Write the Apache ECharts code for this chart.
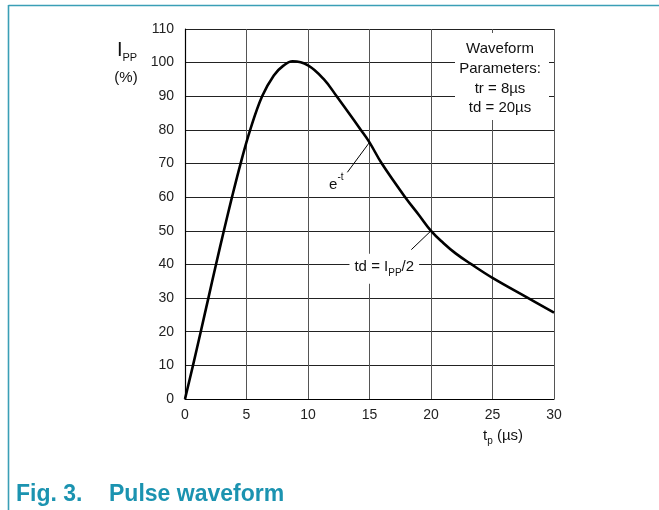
<!DOCTYPE html>
<html><head><meta charset="utf-8">
<script src="https://cdn.jsdelivr.net/npm/echarts@6/dist/echarts.min.js"></script>
<style>html,body{margin:0;padding:0;background:#fff}#c{width:659px;height:510px}</style>
</head><body><div id="c"></div>
<script>
// Pulse waveform: t_p (µs) vs I_PP (%)
const tp  = [0, 0.65, 1.28, 1.9, 2.52, 3.16, 3.82, 4.52, 5.3, 6.27, 7.22, 8.0, 8.75, 10, 11.3, 12.33, 14.3, 15, 16.0, 17.9, 19, 20, 21, 22, 23.3, 25, 27.8, 30];
const ipp = [0, 10, 20, 30, 40, 50, 60, 70, 80, 90, 96.2, 99.1, 100.4, 99.2, 95, 90, 80, 76.3, 70, 60, 54.8, 50, 46.4, 43.3, 40.0, 36.0, 30.2, 25.7];
const xTicks = [0, 5, 10, 15, 20, 25, 30];
const yTicks = [0, 10, 20, 30, 40, 50, 60, 70, 80, 90, 100, 110];
const leaderET = [[15, 76.3], [13.2, 67.4]];
const leaderTD = [[20, 50], [18.4, 44.4]];
const labelET = [12.3, 64.3];
const labelTD = [16.2, 38.7];
const boxLines = ['Waveform', 'Parameters:', 'tr = 8µs', 'td = 20µs'];
const caption = ['Fig. 3.', 'Pulse waveform'];

const FONT = '"Liberation Sans", Arial, sans-serif';
const TEAL = '#1b93b0';
const chart = echarts.init(document.getElementById('c'), null, {renderer: 'canvas'});

const curve = tp.map((t, i) => [t, ipp[i]]);

chart.setOption({
  animation: false,
  backgroundColor: '#fff',
  textStyle: {fontFamily: FONT},
  grid: {left: 185, right: 105, top: 29, bottom: 111, show: false},
  xAxis: {
    type: 'value', min: xTicks[0], max: xTicks[xTicks.length - 1], interval: 5,
    axisLine: {show: true, lineStyle: {color: '#000', width: 1.2}},
    axisTick: {show: false},
    axisLabel: {fontSize: 14, color: '#222', margin: 9, fontFamily: FONT},
    splitLine: {show: true, lineStyle: {color: '#555', width: 1}}
  },
  yAxis: {
    type: 'value', min: yTicks[0], max: yTicks[yTicks.length - 1], interval: 10,
    axisLine: {show: true, lineStyle: {color: '#000', width: 1.2}},
    axisTick: {show: false},
    axisLabel: {fontSize: 14, color: '#222', margin: 11, fontFamily: FONT},
    splitLine: {show: true, lineStyle: {color: '#222', width: 1}}
  },
  series: [
    {
      type: 'line', data: curve, smooth: 0.4, symbol: 'none',
      lineStyle: {color: '#000', width: 2.6}, z: 5
    },
    {
      type: 'line', data: leaderET, symbol: 'none',
      lineStyle: {color: '#000', width: 1}, z: 4
    },
    {
      type: 'line', data: leaderTD, symbol: 'none',
      lineStyle: {color: '#000', width: 1}, z: 4
    },
    {
      type: 'scatter', symbolSize: 0, z: 6, itemStyle: {opacity: 1},
      data: [{value: labelET}],
      label: {
        show: true, position: 'inside', formatter: '{b|e}{s|-t}',
        color: '#111', textBorderWidth: 0, lineHeight: 20, opacity: 1,
        rich: {
          b: {fontSize: 15, color: '#111', textBorderWidth: 0, fontFamily: FONT, verticalAlign: 'bottom'},
          s: {fontSize: 10, color: '#111', textBorderWidth: 0, fontFamily: FONT, verticalAlign: 'top'}
        }
      }
    },
    {
      type: 'scatter', symbolSize: 0, z: 6, itemStyle: {opacity: 1},
      data: [{value: labelTD}],
      label: {
        show: true, position: 'inside', formatter: '{b|td = I}{p|PP}{b|/2}',
        color: '#111', textBorderWidth: 0, opacity: 1,
        backgroundColor: '#fff', padding: [6, 5, 6, 5],
        rich: {
          b: {fontSize: 15, color: '#111', textBorderWidth: 0, fontFamily: FONT, verticalAlign: 'bottom', padding: [0, 0, 3, 0]},
          p: {fontSize: 10, color: '#111', textBorderWidth: 0, fontFamily: FONT, verticalAlign: 'bottom'}
        }
      }
    }
  ],
  graphic: [
    {type: 'line', z: 100, shape: {x1: 8.5, y1: 5.5, x2: 659, y2: 5.5}, style: {stroke: '#3a9fb6', lineWidth: 1.6}},
    {type: 'line', z: 100, shape: {x1: 8.5, y1: 5, x2: 8.5, y2: 510}, style: {stroke: '#3a9fb6', lineWidth: 1.6}},
    {type: 'rect', z: 100, shape: {x: 455, y: 33, width: 94, height: 87}, style: {fill: '#fff'}},
    {type: 'text', z: 101, style: {text: boxLines[0], x: 500, y: 49, align: 'center', verticalAlign: 'middle', font: '15px ' + FONT, fill: '#111'}},
    {type: 'text', z: 101, style: {text: boxLines[1], x: 500, y: 69, align: 'center', verticalAlign: 'middle', font: '15px ' + FONT, fill: '#111'}},
    {type: 'text', z: 101, style: {text: boxLines[2], x: 500, y: 89, align: 'center', verticalAlign: 'middle', font: '15px ' + FONT, fill: '#111'}},
    {type: 'text', z: 101, style: {text: boxLines[3], x: 500, y: 108, align: 'center', verticalAlign: 'middle', font: '15px ' + FONT, fill: '#111'}},
    {type: 'text', z: 101, style: {
      text: '{b|I}{p|PP}', x: 127, y: 63, align: 'center', verticalAlign: 'bottom',
      rich: {
        b: {fontSize: 20, fill: '#111', fontFamily: FONT, verticalAlign: 'bottom', padding: [0, 0, 3, 0]},
        p: {fontSize: 11, fill: '#111', fontFamily: FONT, verticalAlign: 'bottom'}
      }
    }},
    {type: 'text', z: 101, style: {text: '(%)', x: 126, y: 78, align: 'center', verticalAlign: 'middle', font: '15px ' + FONT, fill: '#111'}},
    {type: 'text', z: 101, style: {
      text: '{b|t}{p|p}{b| (µs)}', x: 503, y: 446, align: 'center', verticalAlign: 'bottom',
      rich: {
        b: {fontSize: 15, fill: '#111', fontFamily: FONT, verticalAlign: 'bottom', padding: [0, 0, 3, 0]},
        p: {fontSize: 10, fill: '#111', fontFamily: FONT, verticalAlign: 'bottom'}
      }
    }},
    {type: 'text', z: 101, style: {text: caption[0], x: 16, y: 495, verticalAlign: 'middle', font: 'bold 23px ' + FONT, fill: TEAL}},
    {type: 'text', z: 101, style: {text: caption[1], x: 109, y: 495, verticalAlign: 'middle', font: 'bold 23px ' + FONT, fill: TEAL}}
  ]
});
</script>
</body></html>
